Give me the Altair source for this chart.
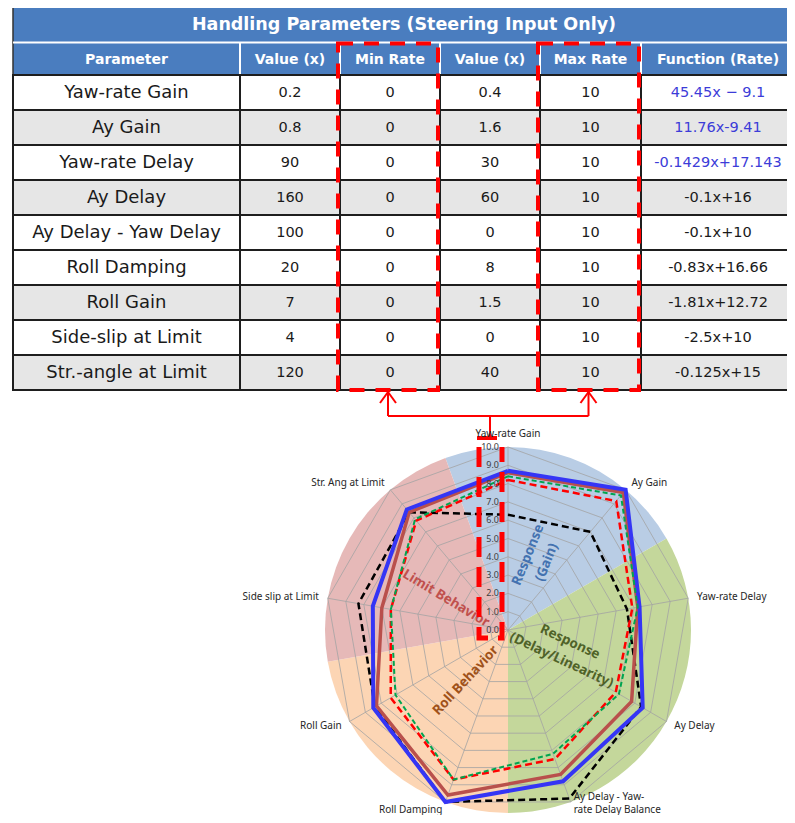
import math
import altair as alt
import pandas as pd

# ---------------- data ----------------
table_title = "Handling Parameters (Steering Input Only)"
header_labels = ["Parameter", "Value (x)", "Min Rate", "Value (x)", "Max Rate", "Function (Rate)"]
parameters = ["Yaw-rate Gain", "Ay Gain", "Yaw-rate Delay", "Ay Delay", "Ay Delay - Yaw Delay",
              "Roll Damping", "Roll Gain", "Side-slip at Limit", "Str.-angle at Limit"]
value_at_min = ["0.2", "0.8", "90", "160", "100", "20", "7", "4", "120"]
min_rate = [0, 0, 0, 0, 0, 0, 0, 0, 0]
value_at_max = ["0.4", "1.6", "30", "60", "0", "8", "1.5", "0", "40"]
max_rate = [10, 10, 10, 10, 10, 10, 10, 10, 10]
rate_functions = ["45.45x − 9.1", "11.76x-9.41", "-0.1429x+17.143", "-0.1x+16", "-0.1x+10",
                  "-0.83x+16.66", "-1.81x+12.72", "-2.5x+10", "-0.125x+15"]
shaded_rows = [1, 3, 6, 8]
blue_text_rows = [0, 1, 2]

radar_axes = ["Yaw-rate Gain", "Ay Gain", "Yaw-rate Delay", "Ay Delay",
              "Ay Delay - Yaw-\nrate Delay Balance", "Roll Damping", "Roll Gain",
              "Side slip at Limit", "Str. Ang at Limit"]
blue_rates = [8.7, 10.0, 7.3, 8.5, 8.8, 10.0, 8.5, 7.5, 8.6]
brown_rates = [8.6, 9.8, 7.2, 7.8, 8.4, 9.6, 8.3, 7.0, 8.4]
green_rates = [8.4, 9.6, 7.2, 7.0, 7.2, 8.7, 7.1, 6.5, 7.9]
red_rates = [8.2, 9.2, 6.9, 6.8, 7.5, 8.7, 7.4, 6.5, 7.8]
black_rates = [6.3, 7.0, 6.6, 8.4, 9.8, 10.0, 8.4, 8.3, 8.4]
radial_ticks = [0, 1, 2, 3, 4, 5, 6, 7, 8, 9, 10]

sector_names = ["Response\n(Gain)", "Response\n(Delay/Linearity)", "Roll Behavior", "Limit Behavior"]
sector_first_axis = [0, 2, 5, 7]
sector_last_axis = [1, 4, 6, 8]

# ---------------- layout ----------------
FONT = "Noto Sans"
TFONT = "DejaVu Sans"
W, H = 779, 807
xs = alt.Scale(domain=[8, 8 + W], nice=False, zero=False)
ys = alt.Scale(domain=[8, 8 + H], nice=False, zero=False, reverse=True)


def X(f):
    return alt.X(f, type="quantitative", scale=xs, axis=None)


def Y(f):
    return alt.Y(f, type="quantitative", scale=ys, axis=None)


col_edges = [13, 240, 340, 440, 540, 641, 800]
TITLE_TOP, TITLE_BOTTOM, HEAD_BOTTOM, ROW_H = 5, 42.5, 75, 35
HEAD_BLUE = "#4a7dbf"

# table cells
cells = []
for r in range(len(parameters)):
    y0 = HEAD_BOTTOM + r * ROW_H
    vals = [parameters[r], value_at_min[r], str(min_rate[r]), value_at_max[r], str(max_rate[r]), rate_functions[r]]
    for c in range(6):
        right = col_edges[c + 1] if c < 5 else 795
        cells.append(dict(
            x0=col_edges[c], x1=col_edges[c + 1], y0=y0, y1=y0 + ROW_H,
            xc=(col_edges[c] + right) / 2, yc=y0 + ROW_H / 2,
            text=vals[c], col=c,
            fill="#e6e6e6" if r in shaded_rows else "#ffffff",
            tcolor="#3c3cd8" if (c == 5 and r in blue_text_rows) else "#1a1a1a",
        ))
cells = pd.DataFrame(cells)
table_bottom = HEAD_BOTTOM + ROW_H * len(parameters)

cell_rects = alt.Chart(cells).mark_rect(stroke="#1e1e1e", strokeWidth=2).encode(
    x=X("x0"), x2="x1", y=Y("y0"), y2="y1", fill=alt.Fill("fill:N", scale=None))
cell_text_param = alt.Chart(cells).transform_filter("datum.col == 0").mark_text(
    font=TFONT, fontSize=18, baseline="middle", align="center").encode(
    x=X("xc"), y=Y("yc"), text="text:N", color=alt.Color("tcolor:N", scale=None))
cell_text_other = alt.Chart(cells).transform_filter("datum.col > 0").mark_text(
    font=TFONT, fontSize=14.5, baseline="middle", align="center").encode(
    x=X("xc"), y=Y("yc"), text="text:N", color=alt.Color("tcolor:N", scale=None))

head_box = pd.DataFrame([dict(x0=col_edges[0], x1=col_edges[-1], y0=TITLE_TOP, y1=HEAD_BOTTOM)])
head_rect = alt.Chart(head_box).mark_rect(fill=HEAD_BLUE, stroke="#333333", strokeWidth=1.5).encode(
    x=X("x0"), x2="x1", y=Y("y0"), y2="y1")
white_rules = pd.DataFrame(
    [dict(x0=col_edges[0], x1=col_edges[-1], y0=TITLE_BOTTOM, y1=TITLE_BOTTOM)] +
    [dict(x0=e, x1=e, y0=TITLE_BOTTOM, y1=HEAD_BOTTOM) for e in col_edges[1:-1]])
head_rules = alt.Chart(white_rules).mark_rule(color="white", strokeWidth=2).encode(
    x=X("x0"), x2="x1", y=Y("y0"), y2="y1")
title_df = pd.DataFrame([dict(x=(col_edges[0] + 795) / 2, y=(TITLE_TOP + TITLE_BOTTOM) / 2 + 1,
                              text=table_title)])
title_text = alt.Chart(title_df).mark_text(font=TFONT, fontSize=17.5, fontWeight="bold", color="white",
                                           baseline="middle").encode(x=X("x"), y=Y("y"), text="text:N")
head_df = pd.DataFrame([dict(x=(col_edges[i] + (col_edges[i + 1] if i < 5 else 795)) / 2,
                             y=(TITLE_BOTTOM + HEAD_BOTTOM) / 2 + 1, text=h)
                        for i, h in enumerate(header_labels)])
head_text = alt.Chart(head_df).mark_text(font=TFONT, fontSize=14, fontWeight="bold", color="white",
                                         baseline="middle").encode(x=X("x"), y=Y("y"), text="text:N")

# red dashed highlight boxes on Min Rate and Max Rate columns
hl_cols = [2, 4]
boxes = pd.DataFrame([dict(x0=col_edges[c] - 2, x1=col_edges[c + 1] - 2, y0=TITLE_BOTTOM + 1, y1=table_bottom)
                      for c in hl_cols])
box_marks = alt.Chart(boxes).mark_rect(fillOpacity=0, stroke="#ff0000", strokeWidth=4,
                                       strokeDash=[15, 11]).encode(x=X("x0"), x2="x1", y=Y("y0"), y2="y1")

# ---------------- radar ----------------
CX, CY, R = 508, 630, 183
U = R / 10
n = len(radar_axes)
angs = [2 * math.pi * i / n for i in range(n)]


def pt(i, v):
    a = angs[i % n]
    return CX + v * U * math.sin(a), CY - v * U * math.cos(a)


def polar(deg, v):
    a = math.radians(deg)
    return CX + v * U * math.sin(a), CY - v * U * math.cos(a)


# connector arrows from the table to the radar scale
xa = (col_edges[2] + col_edges[3]) / 2 - 2
xb = (col_edges[4] + col_edges[5]) / 2 - 2
xm = (col_edges[3] + col_edges[4]) / 2
tip = table_bottom + 2
bar_y = 416
cap_y = CY - R - 9
conn = pd.DataFrame([
    dict(x0=xa, y0=bar_y, x1=xb, y1=bar_y),
    dict(x0=xa, y0=bar_y, x1=xa, y1=tip),
    dict(x0=xb, y0=bar_y, x1=xb, y1=tip),
    dict(x0=xa, y0=tip, x1=xa - 8, y1=tip + 11),
    dict(x0=xa, y0=tip, x1=xa + 8, y1=tip + 11),
    dict(x0=xb, y0=tip, x1=xb - 8, y1=tip + 11),
    dict(x0=xb, y0=tip, x1=xb + 8, y1=tip + 11),
    dict(x0=xm, y0=bar_y, x1=xm, y1=cap_y),
])
conn_marks = alt.Chart(conn).mark_rule(color="#ff0000", strokeWidth=2).encode(
    x=X("x0"), x2="x1", y=Y("y0"), y2="y1")
cap = pd.DataFrame([dict(x0=CX - 31, x1=CX - 11, y0=cap_y, y1=cap_y)])
cap_mark = alt.Chart(cap).mark_rule(color="#ff0000", strokeWidth=4).encode(
    x=X("x0"), x2="x1", y=Y("y0"), y2="y1")
bracket = pd.DataFrame([
    dict(o=0, x=CX - 29, y=CY - R), dict(o=1, x=CX - 29, y=CY + 8),
    dict(o=2, x=CX - 6, y=CY + 8), dict(o=3, x=CX - 6, y=CY - R)])
bracket_mark = alt.Chart(bracket).mark_line(color="#ff0000", strokeWidth=5, strokeDash=[20, 10]).encode(
    x=X("x"), y=Y("y"), order="o:Q")

# background sectors
sec = []
for name, f, l in zip(sector_names, sector_first_axis, sector_last_axis):
    half = 180 / n
    start = (math.degrees(angs[f]) - half) % 360
    span = math.degrees(angs[l] - angs[f]) + 2 * half
    sec.append(dict(name=name, x=CX, y=CY, t0=math.radians(start), t1=math.radians(start + span)))
sec = pd.DataFrame(sec)
sector_colors = alt.Scale(domain=sector_names, range=["#b9cde5", "#c4d79b", "#fcd5b4", "#e6b9b8"])
sector_marks = alt.Chart(sec).mark_arc(radius=R, stroke=None).encode(
    x=X("x"), y=Y("y"),
    theta=alt.Theta("t0:Q", scale=None, stack=None), theta2="t1:Q",
    color=alt.Color("name:N", scale=sector_colors, legend=None))

# grid rings and spokes
ring_rows = []
for k in radial_ticks[1:]:
    for i in range(n + 1):
        x, y = pt(i, k)
        ring_rows.append(dict(ring=k, o=i, x=x, y=y))
rings = alt.Chart(pd.DataFrame(ring_rows)).mark_line(color="#a3a3a3", strokeWidth=0.8).encode(
    x=X("x"), y=Y("y"), detail="ring:N", order="o:Q")
spk = pd.DataFrame([dict(x0=CX, y0=CY, x1=pt(i, 10)[0], y1=pt(i, 10)[1]) for i in range(n)])
spokes = alt.Chart(spk).mark_rule(color="#a3a3a3", strokeWidth=0.8).encode(
    x=X("x0"), x2="x1", y=Y("y0"), y2="y1")

# radial tick labels
tk = pd.DataFrame([dict(x=CX - 9, y=CY - k * U, t=f"{k:.1f}") for k in radial_ticks])
tick_text = alt.Chart(tk).mark_text(font=FONT, fontSize=9, align="right", baseline="middle",
                                    color="#404040").encode(x=X("x"), y=Y("y"), text="t:N")

# axis names
LAB_LH = 13
lab = []
for i, name in enumerate(radar_axes):
    s = math.sin(angs[i])
    side = "left" if s > 0.05 else ("right" if s < -0.05 else "center")
    x, y = pt(i, 10 + (8 if side == "center" else 9) / U)
    extra = name.count("\n")
    y -= extra * LAB_LH
    lab.append(dict(x=x, y=y, t=name, side=side))
lab = pd.DataFrame(lab)
axis_text = []
for side in ["left", "right", "center"]:
    axis_text.append(alt.Chart(lab).transform_filter(f"datum.side == '{side}'").mark_text(
        font=FONT, fontSize=10, align=side, baseline="bottom" if side == "center" else "middle",
        lineBreak="\n", lineHeight=LAB_LH, color="#262626").encode(x=X("x"), y=Y("y"), text="t:N"))

# sector captions (anchor = centre of the first text line)
cap_rows = []
sector_text_colors = ["#4372b0", "#4f6228", "#a0521a", "#c0504d"]
sector_text_rot = [292, 25, 313, 31]
caption_deg = [15, 101, 220, 297]
caption_rad = [4.25, 3.45, 3.6, 3.8]
for name, c, rot, dg, rr in zip(sector_names, sector_text_colors, sector_text_rot, caption_deg, caption_rad):
    x, y = polar(dg, rr)
    cap_rows.append(dict(t=name, x=x, y=y, c=c, rot=rot))
sector_text = alt.Chart(pd.DataFrame(cap_rows)).mark_text(
    font=FONT, fontSize=13.5, fontWeight="bold", baseline="middle", align="center",
    lineBreak="\n", lineHeight=20).encode(
    x=X("x"), y=Y("y"), text="t:N", color=alt.Color("c:N", scale=None), angle=alt.Angle("rot:Q", scale=None))


# series
def series_layer(vals, color, width, dash=None):
    rows = []
    for i in range(n + 1):
        x, y = pt(i, vals[i % n])
        rows.append(dict(o=i, x=x, y=y))
    kw = dict(color=color, strokeWidth=width, strokeJoin="miter")
    if dash:
        kw["strokeDash"] = dash
    return alt.Chart(pd.DataFrame(rows)).mark_line(**kw).encode(x=X("x"), y=Y("y"), order="o:Q")


series = [
    series_layer(black_rates, "#000000", 2.5, [7, 4]),
    series_layer(brown_rates, "#b9504c", 3.5),
    series_layer(blue_rates, "#3535f5", 4),
    series_layer(red_rates, "#ff0000", 2.5, [7, 4]),
    series_layer(green_rates, "#00a550", 2, [5, 3]),
]

chart = alt.layer(
    head_rect, head_rules, title_text, head_text,
    cell_rects, cell_text_param, cell_text_other, box_marks,
    conn_marks, cap_mark,
    sector_marks, rings, spokes, sector_text, *series,
    tick_text, *axis_text, bracket_mark,
).properties(width=W, height=H, padding=0, autosize=alt.AutoSizeParams(type="none")
             ).configure_view(stroke=None)

chart.save("out.html", embed_options={"renderer": "svg", "actions": False})
